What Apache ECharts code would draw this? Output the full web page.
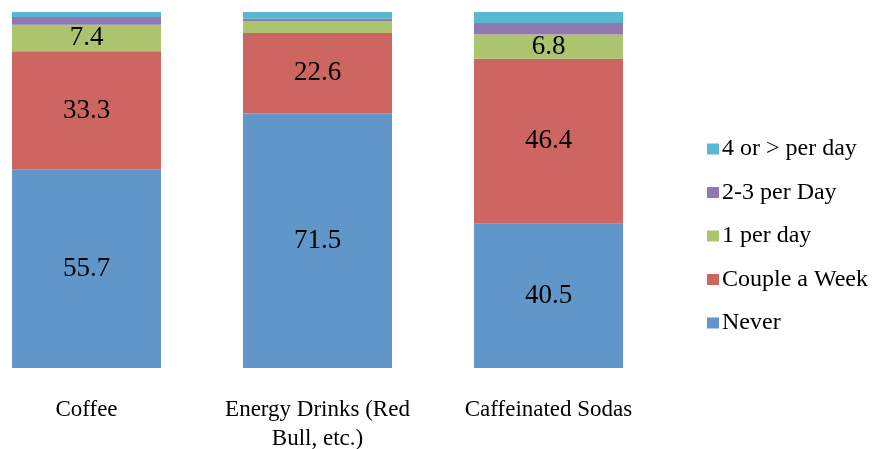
<!DOCTYPE html>
<html>
<head>
<meta charset="utf-8">
<script src="https://cdn.jsdelivr.net/npm/echarts@6/dist/echarts.min.js"></script>
<style>
  html, body { margin: 0; padding: 0; background: #fff; }
  #chart { width: 873px; height: 449px; }
</style>
</head>
<body>
<div id="chart"></div>
<script>
// Caffeine consumption frequency by drink type (percent of respondents)
const categories = ['Coffee', 'Energy Drinks (Red\nBull, etc.)', 'Caffeinated Sodas'];
const never       = [55.7, 71.5, 40.5];
const coupleWeek  = [33.3, 22.6, 46.4];
const onePerDay   = [7.4, 3.3, 6.8];
const twoThreeDay = [2.2, 0.7, 3.2];
const fourPlusDay = [1.4, 1.9, 3.1];

const seriesNames = ['Never', 'Couple a Week', '1 per day', '2-3 per Day', '4 or > per day'];
const seriesValues = [never, coupleWeek, onePerDay, twoThreeDay, fourPlusDay];
const colors = ['#6196c9', '#cd6661', '#abc46d', '#9278b0', '#58b9d0'];

const font = "'Liberation Serif', 'DejaVu Serif', serif";

const chart = echarts.init(document.getElementById('chart'), null, { renderer: 'canvas' });

chart.setOption({
  animation: false,
  backgroundColor: '#ffffff',
  grid: {
    left: 86.5, right: 324.5, top: 12, bottom: 81,
    containLabel: false,
    outerBoundsMode: 'none'
  },
  legend: {
    data: seriesNames.slice().reverse(),
    orient: 'vertical',
    left: 702,
    top: 132,
    itemWidth: 12,
    itemHeight: 11,
    itemGap: 19.5,
    icon: 'rect',
    textStyle: { fontFamily: font, fontSize: 24, color: '#000', padding: [0, 0, 0, -2] }
  },
  xAxis: {
    type: 'category',
    data: categories,
    boundaryGap: false,
    axisLine: { show: false },
    axisTick: { show: false },
    axisLabel: {
      margin: 27,
      fontFamily: font,
      fontSize: 23,
      color: '#000',
      lineHeight: 29,
      interval: 0
    }
  },
  yAxis: {
    type: 'value',
    min: 0,
    max: 100,
    show: false,
    splitLine: { show: false }
  },
  series: seriesNames.map((name, i) => ({
    name: name,
    type: 'bar',
    stack: 'total',
    barWidth: 149,
    data: seriesValues[i],
    itemStyle: { color: colors[i] },
    label: {
      show: true,
      position: 'inside',
      fontFamily: font,
      fontSize: 27,
      color: '#000',
      formatter: p => (p.value >= 5 ? p.value.toFixed(1) : '')
    }
  }))
});
</script>
</body>
</html>
